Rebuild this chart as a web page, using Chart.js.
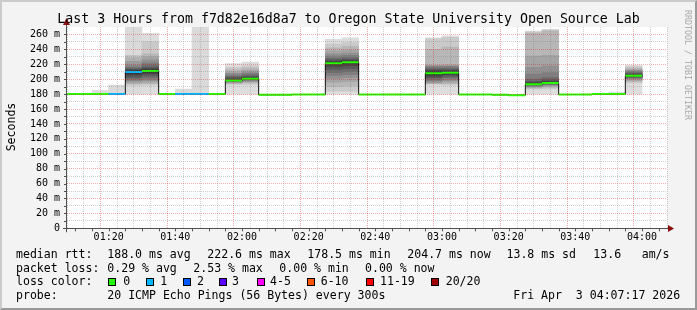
<!DOCTYPE html>
<html>
<head>
<meta charset="utf-8">
<script src="https://cdn.jsdelivr.net/npm/chart.js@4.4.1/dist/chart.umd.min.js"></script>
<style>
html,body{margin:0;padding:0;}
body{width:697px;height:310px;background:#f3f3f3;position:relative;overflow:hidden;font-family:"DejaVu Sans Mono",monospace;color:#000;}
#frame{position:absolute;left:0;top:0;width:697px;height:310px;box-sizing:border-box;border-style:solid;border-width:2px;border-color:#cbcbcb #999 #999 #cbcbcb;}
#c{position:absolute;left:0;top:0;}
.t{position:absolute;white-space:pre;font-size:11.55px;line-height:14px;}
#title{position:absolute;left:0;top:11.4px;width:697px;text-align:center;white-space:pre;font-size:13.25px;line-height:16px;}
#ylab{position:absolute;left:-39px;top:120px;width:100px;height:14px;line-height:14px;text-align:center;font-size:11.55px;transform:rotate(-90deg);}
#wm{position:absolute;left:638px;top:55px;width:100px;height:10px;line-height:10px;text-align:center;font-size:8.3px;color:#a8a8a8;transform:rotate(90deg);white-space:pre;}
.box{position:absolute;width:8px;height:8px;box-sizing:border-box;border:1px solid #000;top:278px;}
</style>
</head>
<body>
<div id="frame"></div>
<canvas id="c" width="697" height="310"></canvas>
<div id="title">Last 3 Hours from f7d82e16d8a7 to Oregon State University Open Source Lab</div>
<div id="ylab">Seconds</div>
<div id="wm">RRDTOOL / TOBI OETIKER</div>
<div id="legend"></div>
<script>
// ---------- data ----------
const viewStart = '01:07:30';
const viewEnd = '04:07:30';
const stepEnds = ['01:10','01:15','01:20','01:25','01:30','01:35','01:40','01:45','01:50','01:55',
  '02:00','02:05','02:10','02:15','02:20','02:25','02:30','02:35','02:40','02:45',
  '02:50','02:55','03:00','03:05','03:10','03:15','03:20','03:25','03:30','03:35',
  '03:40','03:45','03:50','03:55','04:00'];
const medianRtt = [180,180,180,180,209.8,211.0,180,180,180,180,
  198.4,200.7,179.0,179.0,179.5,179.5,221.4,222.6,179.5,179.5,
  179.5,179.5,208.0,208.7,179.5,179.5,179.0,178.5,193.3,194.8,
  179.5,179.5,180,180,204.7];
const lossCount = [0,0,0,1,1,0,0,1,1,0,
  0,0,0,0,0,0,0,0,0,0,
  0,0,0,0,0,0,0,0,0,0,
  0,0,0,0,0];
const smokePings = [
  null, null,
  [180,180,180,180,180,180,180,180,180,180,180,180,180,180,180,180,180,180,180,185],
  [180,180,180,180,180,180,180,180,180,180,180,180,180,180,180,180,180,180,192],
  [180,192,194,196,198,200,202,205,207.5,209.8,211,212.5,214,216,219,224,229,232,270],
  [180,192,194,196,198,200,202.5,205,207.5,209.5,212.5,214,216,219,222,226,230,234,250,261.6],
  null,
  [180,180,180,180,180,180,180,180,180,180,180,180,180,180,180,180,180,180,186.6],
  [180,180,180,180,180,180,180,180,180,180,180,180,180,180,180,180,180,180,270],
  null,
  [180,193,194,195,196,196.8,197.4,197.9,198.2,198.3,198.5,200,202,204,206,208,210,213,216,221],
  [180,193,195,196.5,197.5,198.5,199.2,199.8,200.3,200.6,200.8,202,204,206,208,210,212,215,218,223],
  null, null, null, null,
  [180,184,190,196,201,205,209,213,217,220.5,222.3,224,226,228,231,234,238,242,247,253.6],
  [180,184,191,197,202,206,210,214,218,221.5,223.7,225,227,229,232,235,239,244,249,255.6],
  null, null, null, null,
  [180,193,194,195,196,198,200,202,204,206,210,211.5,213,215,217,218,218.5,240,254,255.6],
  [180,192,194,196,198,200,202,204,206,207.5,209.9,211.5,213,215,217,218,219,243,256,258.3],
  null, null, null, null,
  [180,186.7,188,189,190,191,191.8,192.3,192.8,193.1,193.5,195,197,200,207,216,231,262,263.5,264.5],
  [180,187,189,190.5,191.5,192.5,193.2,193.8,194.3,194.6,195,197,199,202,209,218,232,265,266,267],
  null, null, null,
  [180,180,180,180,180,180,180,180,180,180,180,180,180,180,180,180,180,180,180,182.6],
  [180,195,197,198.5,200,201,202,203,203.8,204.4,205,206,207.5,209,210.5,212,213,215,217,219]
];
const xTickLabels = ['01:20','01:40','02:00','02:20','02:40','03:00','03:20','03:40','04:00'];
const yTickLabels = ['0','20 m','40 m','60 m','80 m','100 m','120 m','140 m','160 m','180 m','200 m','220 m','240 m','260 m'];
const lossColors = ['#26ff00','#00b8ff','#0059ff','#5e00ff','#ff00ff','#ff5500','#ff0000','#a10000'];
const lossLabels = ['0','1','2','3','4-5','6-10','11-19','20/20'];
const statRows = [
  ['median rtt:', '188.0 ms avg', '222.6 ms max', '178.5 ms min', '204.7 ms now', '13.8 ms sd', '13.6', 'am/s'],
  ['packet loss:', '0.29 % avg', '2.53 % max', '0.00 % min', '0.00 % now'],
  ['loss color:'],
  ['probe:', '20 ICMP Echo Pings (56 Bytes) every 300s', 'Fri Apr  3 04:07:17 2026']
];

// ---------- legend (HTML text) ----------
const rowTops = [246.8, 260.5, 274.2, 287.9];
const rowX = [
  [16, 107.3, 207.3, 307.3, 407.3, 506.5, 593.3, 641.7],
  [16, 107.3, 193.3, 279.3, 365],
  [16],
  [16, 107.3, 513.3]
];
const boxX = [108.3, 145.7, 182.7, 219.3, 256.7, 307.3, 365.7, 430.7];
const labX = [123.3, 160.3, 197, 232, 270, 320.7, 380, 445.7];
const leg = document.getElementById('legend');
statRows.forEach((row, r) => {
  row.forEach((txt, i) => {
    const d = document.createElement('div');
    d.className = 't';
    d.style.left = rowX[r][i] + 'px';
    d.style.top = rowTops[r] + 'px';
    d.textContent = txt;
    leg.appendChild(d);
  });
});
lossLabels.forEach((lab, i) => {
  const b = document.createElement('div');
  b.className = 'box';
  b.style.left = boxX[i] + 'px';
  b.style.background = lossColors[i];
  leg.appendChild(b);
  const d = document.createElement('div');
  d.className = 't';
  d.style.left = labX[i] + 'px';
  d.style.top = rowTops[2] + 'px';
  d.textContent = lab;
  leg.appendChild(d);
});

// ---------- helpers ----------
const toMin = s => { const p = s.split(':').map(Number); return p[0]*60 + p[1] + (p[2]||0)/60; };
const xMin = toMin(viewStart), xMax = toMin(viewEnd);
const STEP = 5;
const ends = stepEnds.map(toMin);
const starts = ends.map(e => Math.max(e - STEP, xMin));
const lossColorFor = n => n === 0 ? lossColors[0] : n === 1 ? lossColors[1] : n === 2 ? lossColors[2] : n === 3 ? lossColors[3] : n <= 5 ? lossColors[4] : n <= 10 ? lossColors[5] : n <= 19 ? lossColors[6] : lossColors[7];

// smoke bands (SmokePing style: pair i-th lowest with i-th highest ping)
const NB = 10;
const bandData = Array.from({length: NB}, () => []);
smokePings.forEach((p, k) => {
  if (!p) return;
  const n = p.length, half = Math.floor(n/2);
  const center = ends[k] - STEP/2;
  for (let ib = 1; ib <= half; ib++) {
    const lo = p[ib-1], hi = p[n-ib];
    if (hi - lo <= 0) continue;
    const g = Math.floor(190/half*(half-ib)) + 50;
    bandData[ib-1].push({x: center, y: [lo, hi], c: 'rgb(' + g + ',' + g + ',' + g + ')'});
  }
});

const stepLine = medianRtt.map((v, k) => ({x: starts[k], y: v}));
stepLine.push({x: ends[ends.length-1], y: medianRtt[medianRtt.length-1]});

const colLine = [];
medianRtt.forEach((v, k) => {
  colLine.push({x: starts[k], y: v});
  colLine.push({x: ends[k], y: v});
  colLine.push({x: ends[k], y: null});
});

const datasets = bandData.map((d, i) => ({
  type: 'bar', data: d, grouped: false, barPercentage: 1, categoryPercentage: 1,
  borderWidth: 0, backgroundColor: ctx => (ctx.raw && ctx.raw.c) || '#ddd', order: 50 - i
}));
datasets.push({type: 'line', data: stepLine, stepped: 'before', borderColor: '#111', borderWidth: 1, pointRadius: 0, order: 2});
datasets.push({type: 'line', data: colLine, borderWidth: 2, pointRadius: 0, spanGaps: false, order: 1,
  borderColor: lossColors[0],
  segment: { borderColor: ctx => lossColorFor(lossCount[Math.floor(ctx.p0DataIndex/3)]) }});

const MONO = 'DejaVu Sans Mono';
const RED = 'rgba(225,0,0,0.33)';
const GRAY = 'rgba(120,120,120,0.35)';

const frame = {
  id: 'frame',
  beforeDraw(chart) {
    const {ctx, chartArea: a} = chart;
    ctx.save(); ctx.fillStyle = '#fff';
    ctx.fillRect(a.left, a.top, a.right - a.left, a.bottom - a.top);
    ctx.restore();
  },
  afterDraw(chart) {
    const {ctx, chartArea: a, scales} = chart;
    ctx.save();
    ctx.strokeStyle = '#505050'; ctx.lineWidth = 1;
    scales.y.ticks.forEach(t => {
      const y = Math.round(scales.y.getPixelForValue(t.value)) + 0.5;
      ctx.beginPath(); ctx.moveTo(a.left - 3, y); ctx.lineTo(a.left, y); ctx.stroke();
    });
    scales.x.ticks.forEach(t => {
      const x = Math.round(scales.x.getPixelForValue(t.value)) + 0.5;
      ctx.beginPath(); ctx.moveTo(x, a.bottom); ctx.lineTo(x, a.bottom + 3); ctx.stroke();
    });
    const ax = Math.round(a.left) - 0.5, ay = Math.round(a.bottom) + 0.5;
    ctx.beginPath(); ctx.moveTo(ax, a.bottom + 4); ctx.lineTo(ax, a.top - 5); ctx.stroke();
    ctx.beginPath(); ctx.moveTo(a.left - 4, ay); ctx.lineTo(a.right + 3, ay); ctx.stroke();
    ctx.fillStyle = '#8b1010';
    ctx.beginPath(); ctx.moveTo(ax - 3.5, a.top - 2); ctx.lineTo(ax + 3.5, a.top - 2); ctx.lineTo(ax, a.top - 9); ctx.closePath(); ctx.fill();
    ctx.beginPath(); ctx.moveTo(a.right + 1, ay - 3.5); ctx.lineTo(a.right + 1, ay + 3.5); ctx.lineTo(a.right + 7, ay); ctx.closePath(); ctx.fill();
    ctx.restore();
  }
};

new Chart(document.getElementById('c'), {
  type: 'bar',
  data: {datasets},
  plugins: [frame],
  options: {
    responsive: false, animation: false, events: [], devicePixelRatio: 1,
    layout: {padding: {left: 0, top: 27, right: 30, bottom: 0}},
    plugins: {legend: {display: false}, tooltip: {enabled: false}, title: {display: false}},
    scales: {
      x: {
        type: 'linear', min: xMin, max: xMax, offset: false,
        afterBuildTicks: s => { const t = []; for (let v = Math.ceil(xMin/STEP)*STEP; v < xMax; v += STEP) t.push({value: v}); s.ticks = t; },
        afterFit: s => { s.height = 81.7; },
        grid: {z: 1, drawTicks: false, lineWidth: 1, color: c => (c.tick && c.tick.value % 20 === 0) ? RED : GRAY},
        border: {display: false, dash: [1, 1]},
        ticks: {autoSkip: false, maxRotation: 0, minRotation: 0, padding: 3, color: '#000',
          font: {family: MONO, size: 10},
          callback: v => { const h = Math.floor(v/60), m = v % 60; const s = String(h).padStart(2,'0') + ':' + String(m).padStart(2,'0'); return xTickLabels.includes(s) ? s : ''; }}
      },
      y: {
        min: 0, max: 270,
        afterBuildTicks: s => { const t = []; for (let v = 0; v <= 260; v += 10) t.push({value: v}); s.ticks = t; },
        afterFit: s => { s.width = 67; },
        grid: {z: 1, drawTicks: false, lineWidth: 1, color: c => (c.tick && c.tick.value % 20 === 0) ? RED : GRAY},
        border: {display: false, dash: [1, 1]},
        ticks: {autoSkip: false, padding: 7, color: '#000', font: {family: MONO, size: 10},
          callback: v => v % 20 === 0 ? (yTickLabels[v/20] || '') : ''}
      }
    }
  }
});
</script>
</body>
</html>
